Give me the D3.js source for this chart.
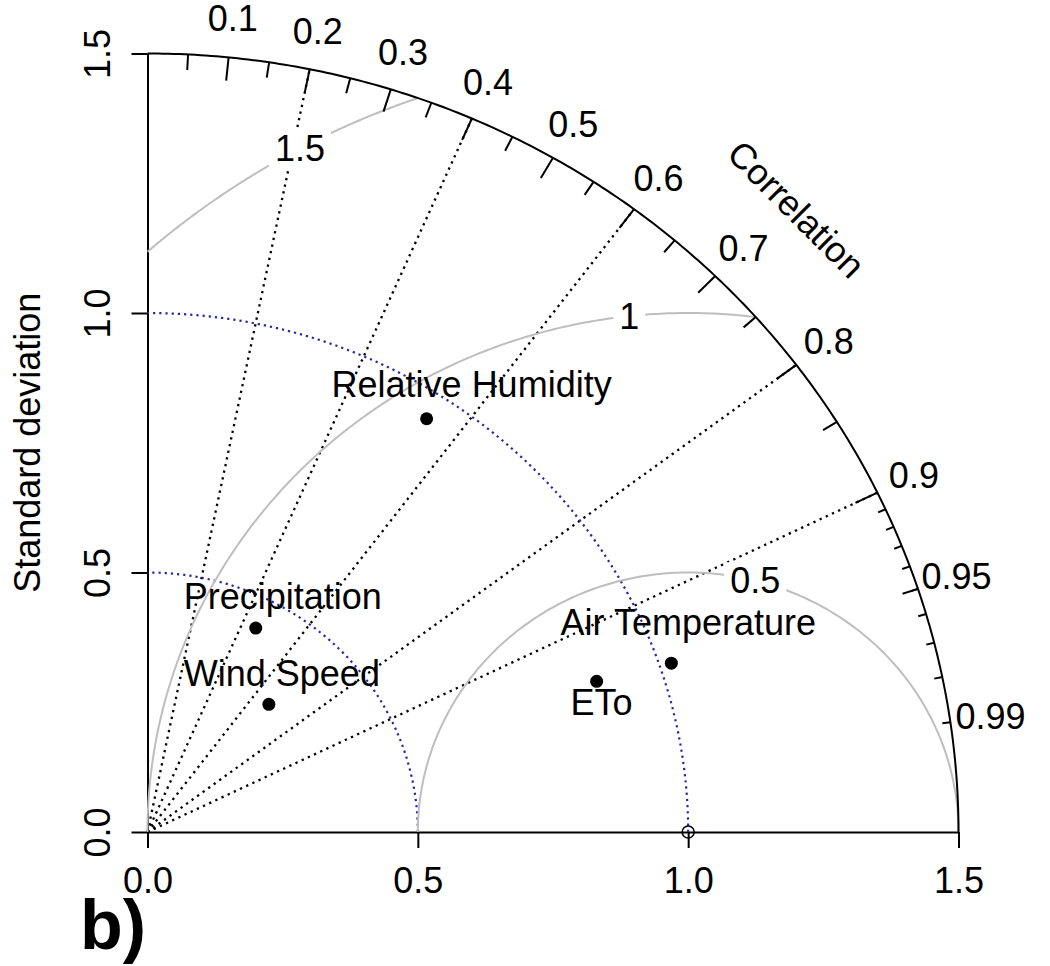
<!DOCTYPE html>
<html>
<head>
<meta charset="utf-8">
<script src="https://cdn.jsdelivr.net/npm/d3@7"></script>
<style>
  body { margin: 0; background: #ffffff; }
  svg { display: block; font-family: "Liberation Sans", Arial, sans-serif; }
</style>
</head>
<body>
<svg id="chart" width="1050" height="966"></svg>
<script>
// ---- Data: normalised standard deviation and correlation of each variable ----
const variables   = ["Relative Humidity", "Precipitation", "Wind Speed", "ETo", "Air Temperature"];
const stdDev      = [0.949, 0.441, 0.333, 0.880, 1.022];
const correlation = [0.544, 0.454, 0.674, 0.944, 0.948];

const refStdDev   = 1.0;
const maxSd       = 1.5;

const axisTicks      = [0, 0.5, 1.0, 1.5];
const axisTickLabels = ["0.0", "0.5", "1.0", "1.5"];

const corrLabelValues = [0.1, 0.2, 0.3, 0.4, 0.5, 0.6, 0.7, 0.8, 0.9, 0.95, 0.99];
const corrLabelText   = ["0.1", "0.2", "0.3", "0.4", "0.5", "0.6", "0.7", "0.8", "0.9", "0.95", "0.99"];
const corrBigTicks    = [0.1, 0.2, 0.3, 0.4, 0.5, 0.6, 0.7, 0.8, 0.9];
const corrMedTicks    = [0.05, 0.15, 0.25, 0.35, 0.45, 0.55, 0.65, 0.75, 0.85, 0.95];
const corrSmallTicks  = [0.91, 0.92, 0.93, 0.94, 0.95, 0.96, 0.97, 0.98, 0.99];
const corrLines       = [0.2, 0.4, 0.6, 0.8, 0.9];

const sdArcs      = [0.5, 1.0];
const rmsContours = [0.5, 1, 1.5];
const rmsLabels   = ["0.5", "1", "1.5"];

// ---- Layout ----
const svg = d3.select("#chart");
const FONT = 36;

const x = d3.scaleLinear().domain([0, maxSd]).range([147.5, 958.5]);
const y = d3.scaleLinear().domain([0, maxSd]).range([832, 53.5]);

// polar (radius in sd units, angle in radians) -> pixel
const polar = (r, t) => [x(r * Math.cos(t)), y(r * Math.sin(t))];
const line = d3.line();

function arcPath(cx, r, t0, t1, n = 240) {
  const pts = d3.range(n + 1).map(i => {
    const t = t0 + (t1 - t0) * i / n;
    return [x(cx + r * Math.cos(t)), y(r * Math.sin(t))];
  });
  return line(pts);
}

// Correlation grid lines (dotted rays from origin)
svg.append("g")
  .selectAll("path")
  .data(corrLines)
  .join("path")
  .attr("d", c => line([polar(0, 0), polar(maxSd, Math.acos(c))]))
  .attr("fill", "none")
  .attr("stroke", "#000")
  .attr("stroke-width", 2.3)
  .attr("stroke-dasharray", "2.3 4.5");

// Axes
const xAxis = d3.axisBottom(x)
  .tickValues(axisTicks)
  .tickFormat((d, i) => axisTickLabels[i])
  .tickSizeInner(16)
  .tickSizeOuter(0)
  .tickPadding(19);
const gx = svg.append("g").attr("transform", `translate(0,${y(0)})`).call(xAxis);
gx.selectAll("text").attr("font-size", FONT).attr("fill", "#000").attr("font-family", "Liberation Sans, Arial, sans-serif");

const yAxis = d3.axisLeft(y)
  .tickValues(axisTicks)
  .tickFormat((d, i) => axisTickLabels[i])
  .tickSizeInner(16)
  .tickSizeOuter(0);
const gy = svg.append("g").attr("transform", `translate(${x(0)},0)`).call(yAxis);
gy.selectAll("text")
  .attr("font-size", FONT)
  .attr("fill", "#000")
  .attr("font-family", "Liberation Sans, Arial, sans-serif")
  .attr("x", null)
  .attr("dy", null)
  .attr("text-anchor", "middle")
  .attr("transform", "translate(-38,0) rotate(-90)");

svg.selectAll(".domain, .tick line").attr("stroke", "#000").attr("stroke-width", 2);

// Y axis title
svg.append("text")
  .attr("transform", `translate(40,${y(0.75)}) rotate(-90)`)
  .attr("text-anchor", "middle")
  .attr("font-size", FONT)
  .text("Standard deviation");

// Standard deviation arcs (blue dotted)
svg.append("g")
  .selectAll("path")
  .data(sdArcs)
  .join("path")
  .attr("d", r => arcPath(0, r, 0, Math.PI / 2))
  .attr("fill", "none")
  .attr("stroke", "#2626a8")
  .attr("stroke-width", 2.2)
  .attr("stroke-dasharray", "2.2 4");

// Centred RMS difference contours around the reference point
const rmsLabelAngle = [1.32, 1.68, 2.07];
const gRms = svg.append("g");
rmsContours.forEach((g, i) => {
  const cStart = (maxSd * maxSd - refStdDev * refStdDev - g * g) / (2 * g * refStdDev);
  const t0 = cStart >= 1 ? 0 : Math.acos(Math.max(-1, cStart));
  const cEnd = -refStdDev / g;
  const t1 = cEnd <= -1 ? Math.PI : Math.acos(cEnd);
  gRms.append("path")
    .attr("d", arcPath(refStdDev, g, t0, t1))
    .attr("fill", "none")
    .attr("stroke", "#bebebe")
    .attr("stroke-width", 2);

  const t = rmsLabelAngle[i];
  const lx = x(refStdDev + g * Math.cos(t));
  const ly = y(g * Math.sin(t));
  const bg = gRms.append("rect").attr("fill", "#fff");
  const txt = gRms.append("text")
    .attr("x", lx).attr("y", ly)
    .attr("dy", "0.35em")
    .attr("text-anchor", "middle")
    .attr("font-size", FONT)
    .text(rmsLabels[i]);
  const bb = txt.node().getBBox();
  bg.attr("x", bb.x - 6).attr("y", bb.y + 2).attr("width", bb.width + 12).attr("height", bb.height - 4);
});

// Outer correlation arc
svg.append("path")
  .attr("d", arcPath(0, maxSd, 0, Math.PI / 2))
  .attr("fill", "none")
  .attr("stroke", "#000")
  .attr("stroke-width", 2);

// Correlation ticks
function tickSet(vals, inner) {
  svg.append("g")
    .selectAll("path")
    .data(vals)
    .join("path")
    .attr("d", c => line([polar(maxSd, Math.acos(c)), polar(maxSd * inner, Math.acos(c))]))
    .attr("stroke", "#000")
    .attr("stroke-width", 2);
}
tickSet(corrBigTicks, 0.97);
tickSet(corrMedTicks, 0.98);
tickSet(corrSmallTicks, 0.99);

// Correlation labels
svg.append("g")
  .selectAll("text")
  .data(corrLabelValues)
  .join("text")
  .attr("x", c => polar(maxSd * 1.05, Math.acos(c))[0])
  .attr("y", c => polar(maxSd * 1.05, Math.acos(c))[1])
  .attr("dy", "0.35em")
  .attr("text-anchor", "middle")
  .attr("font-size", FONT)
  .text((c, i) => corrLabelText[i]);

svg.append("text")
  .attr("transform", `translate(${x(maxSd * 0.8)},${y(maxSd * 0.8)}) rotate(45)`)
  .attr("dy", "0.35em")
  .attr("text-anchor", "middle")
  .attr("font-size", FONT)
  .text("Correlation");

// Reference point
svg.append("circle")
  .attr("cx", x(refStdDev)).attr("cy", y(0))
  .attr("r", 6)
  .attr("fill", "none")
  .attr("stroke", "#000")
  .attr("stroke-width", 1.5);

// Variable points
const pts = variables.map((name, i) => {
  const t = Math.acos(correlation[i]);
  const [px, py] = polar(stdDev[i], t);
  return { name, px, py };
});
svg.append("g")
  .selectAll("circle")
  .data(pts)
  .join("circle")
  .attr("cx", d => d.px)
  .attr("cy", d => d.py)
  .attr("r", 6.5)
  .attr("fill", "#000");

// Point labels (offset from each marker, in px)
const labelOffset = {
  "Relative Humidity": [45, -22],
  "Precipitation":     [27, -19],
  "Wind Speed":        [13, -18],
  "ETo":               [5, 34],
  "Air Temperature":   [17, -28]
};
svg.append("g")
  .selectAll("text")
  .data(pts)
  .join("text")
  .attr("x", d => d.px + labelOffset[d.name][0])
  .attr("y", d => d.py + labelOffset[d.name][1])
  .attr("text-anchor", "middle")
  .attr("font-size", FONT)
  .text(d => d.name);

// Panel tag
svg.append("text")
  .attr("x", 80).attr("y", 949)
  .attr("font-size", 70)
  .attr("font-weight", "bold")
  .text("b)");
</script>
</body>
</html>
